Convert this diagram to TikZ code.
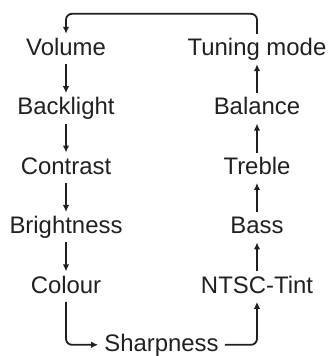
\documentclass[tikz,border=0pt]{standalone}
\usepackage{fontspec}
\setmainfont{Liberation Sans}
\usepackage{tikz}
\usetikzlibrary{arrows.meta,positioning,calc}
\definecolor{menuink}{HTML}{231F20}
\tikzset{
 menuitem/.style={font=\fontsize{24}{28}\selectfont, text=menuink,
 text height=17bp, text depth=4bp, inner xsep=6bp, inner ysep=4.5bp},
 marrow/.style={-{Latex[length=7bp,width=6.5bp]}, draw=menuink, line width=1.8bp},
 loop/.style={marrow, rounded corners=6bp},
}

\begin{document}
\begin{tikzpicture}[node distance=29bp]
\useasboundingbox (-66bp,-307bp) rectangle (264bp,49bp);

% ,  Left column: picture settings , , , , , , , , , -
\node[menuitem] (vol) {Volume};
\node[menuitem, below=of vol]    (back)   {Backlight};
\node[menuitem, below=of back]   (contr)  {Contrast};
\node[menuitem, below=of contr]  (bright) {Brightness};
\node[menuitem, below=of bright] (colour) {Colour};

% ,  Right column: sound / tuning , , , , , , , , , , -
\node[menuitem] (tune) at (191bp,0) {Tuning mode};
\node[menuitem, below=of tune]   (bal)    {Balance};
\node[menuitem, below=of bal]    (treble) {Treble};
\node[menuitem, below=of treble] (bass)   {Bass};
\node[menuitem, below=of bass]   (tint)   {NTSC-Tint};

% ,  Bottom item, half way between the columns , , , -
\coordinate (mid) at ($(colour)!0.5!(tint)$);
\node[menuitem, below=43bp of mid] (sharp) {Sharpness};

% Column arrows
\draw[marrow] (vol)    -- (back);
\draw[marrow] (back)   -- (contr);
\draw[marrow] (contr)  -- (bright);
\draw[marrow] (bright) -- (colour);
\draw[marrow] (tint)   -- (bass);
\draw[marrow] (bass)   -- (treble);
\draw[marrow] (treble) -- (bal);
\draw[marrow] (bal)    -- (tune);

% Wrap-around links
\draw[loop] (colour.south) |- (sharp.west);
\draw[loop] (sharp.east) -| (tint.south);
\draw[loop] (tune.north) -- ++(0,20bp) -| (vol.north);

\end{tikzpicture}
\end{document}
